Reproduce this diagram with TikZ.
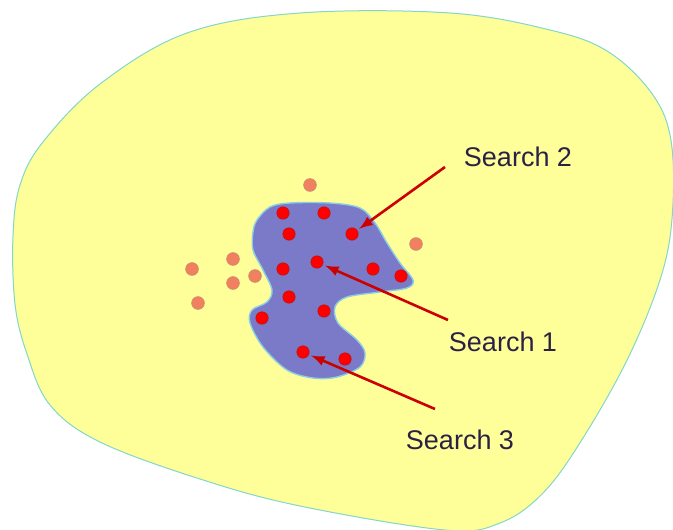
\documentclass[tikz,border=0pt]{standalone}
\usepackage{fontspec}
\setmainfont{Liberation Sans}
\definecolor{spacefill}{RGB}{255,255,153}
\definecolor{spaceline}{RGB}{130,215,200}
\definecolor{regionfill}{RGB}{122,122,200}
\definecolor{regionline}{RGB}{140,205,230}
\definecolor{hitfill}{RGB}{255,0,0}
\definecolor{hitline}{RGB}{190,20,20}
\definecolor{missfill}{RGB}{240,128,96}
\definecolor{missline}{RGB}{200,140,110}
\definecolor{arrowred}{RGB}{204,0,0}
\definecolor{labeltext}{RGB}{43,33,69}
\tikzset{
  space/.style    = {fill=spacefill, draw=spaceline, line width=0.5pt},
  region/.style   = {fill=regionfill, draw=regionline, line width=0.7pt},
  hit/.style      = {circle, fill=hitfill, draw=hitline, line width=0.3pt,
                     inner sep=0pt, minimum size=6.2pt},
  miss/.style     = {circle, fill=missfill, draw=missline, line width=0.3pt,
                     inner sep=0pt, minimum size=6.4pt},
  searchlbl/.style = {font=\fontsize{13.5}{16}\selectfont, text=labeltext,
                     inner sep=0pt},
  pointer/.style  = {draw=arrowred, line width=1.3pt, -latex, shorten >=1.2pt}
}

\begin{document}
\begin{tikzpicture}
  [
    x = 0.5pt,
    y = -0.5pt
  ]
 \useasboundingbox (0,0) rectangle (673,529);
 \fill[white] (0,0) rectangle (673,529);
 \draw[space] plot[smooth cycle, tension=0.6] coordinates {
   (300,13) (450,13) (550,30) (607,51) (650,91) (670,135) (673,203)
   (663,270) (630,354) (583,438) (543,493) (500,523) (445,530)
   (300,506) (200,479) (100,442) (50,405) (27,354) (15,304) (13,236)
   (20,185) (43,142) (100,84) (187,33)};
 \draw[region] plot[smooth cycle, tension=0.55] coordinates {
   (257,220) (270,207) (290,203) (330,203) (360,208) (375,223) (387,243)
   (400,263) (413,280) (407,288) (380,292) (347,297) (335,307) (338,323)
   (357,340) (365,353) (360,367) (337,377) (313,378) (287,370) (263,347)
   (250,323) (252,310) (267,302) (272,290) (263,270) (253,250) (253,232)};

 \node [hit] (r1)  at (283,213) {};
 \node [hit] (r2)  at (324,213) {};
 \node [hit] (r3)  at (289,234) {};
 \node [hit] (r4)  at (352,234) {};
 \node [hit] (r5)  at (317,262) {};
 \node [hit] (r6)  at (283,269) {};
 \node [hit] (r7)  at (373,269) {};
 \node [hit] (r8)  at (401,276) {};
 \node [hit] (r9)  at (289,297) {};
 \node [hit] (r10) at (324,311) {};
 \node [hit] (r11) at (262,318) {};
 \node [hit] (r12) at (303,352) {};
 \node [hit] (r13) at (345,359) {};

 \node [miss] (o1) at (310,185) {};
 \node [miss] (o2) at (416,244) {};
 \node [miss] (o3) at (233,259) {};
 \node [miss] (o4) at (192,269) {};
 \node [miss] (o5) at (255,276) {};
 \node [miss] (o6) at (233,283) {};
 \node [miss] (o7) at (198,303) {};

 \node [searchlbl] (search2) at (518,157) {Search 2};
 \node [searchlbl] (search1) at (503,342) {Search 1};
 \node [searchlbl] (search3) at (460,440) {Search 3};

 \coordinate (tail2) at (445,167);
 \coordinate (tail1) at (448,320);
 \coordinate (tail3) at (435,409);
 \draw [pointer] (tail2) -- (r4);
 \draw [pointer] (tail1) -- (r5);
 \draw [pointer] (tail3) -- (r12);
\end{tikzpicture}
\end{document}
